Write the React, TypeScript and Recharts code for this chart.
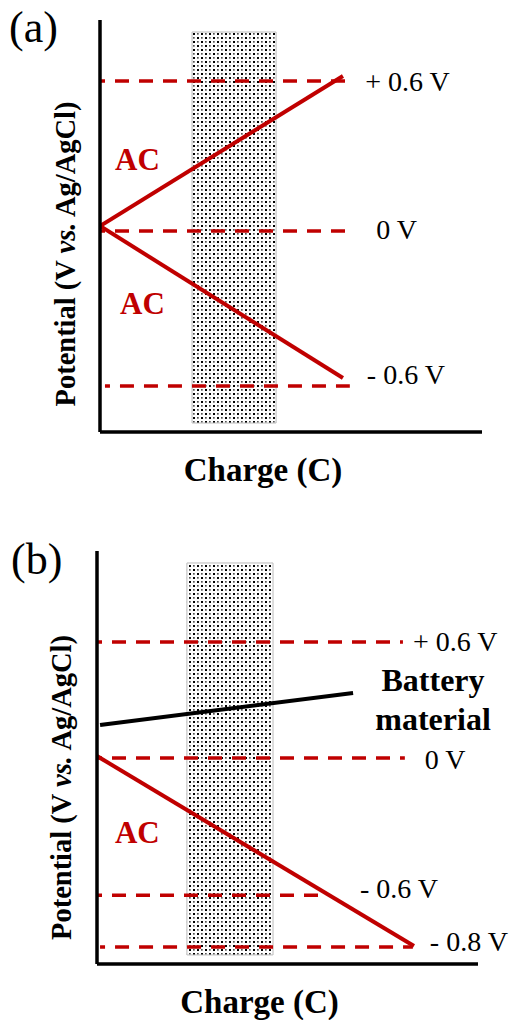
import {
  LineChart,
  Line,
  XAxis,
  YAxis,
  ReferenceLine,
  ReferenceArea,
  ReferenceDot,
} from "recharts";

const SERIF = '"Liberation Serif", "Times New Roman", serif';
const RED = "#c00000";

// ---- panel (a): symmetric AC / AC cell
const chargeA = [0, 63.6];
const acPositiveA = [0.02, 0.62];
const acNegativeA = [0.02, -0.588];
const levelsA = [0.6, 0, -0.62];
const levelLabelsA = ["+ 0.6 V", "0 V", "- 0.6 V"];
const levelStartA = [0, 0, 1.3];
const levelEndA = [64.7, 64.7, 65.4];
const windowChargeA = [24.1, 46.1];
const windowPotentialA = [-0.768, 0.796];
const acLabelsA = [
  { x: 9.8, y: 0.288 },
  { x: 11.1, y: -0.288 },
];

// ---- panel (b): battery material / AC cell
const chargeB = [0, 83.2];
const acNegativeB = [0.01, -0.973];
const batteryChargeB = [0.8, 67.2];
const batteryB = [0.171, 0.336];
const levelsB = [0.6, 0, -0.71, -0.978];
const levelLabelsB = ["+ 0.6 V", "0 V", "- 0.6 V", "- 0.8 V"];
const levelStartB = [0, 0, 0, 0.8];
const levelEndB = [80.3, 80.8, 58.5, 82.9];
const windowChargeB = [23.6, 46.2];
const windowPotentialB = [-1.019, 1.009];
const acLabelsB = [{ x: 10.6, y: -0.383 }];
const batteryLabelB = { x: 88.2, y: [0.404, 0.202], text: ["Battery", "material"] };

const toPoints = (xs: number[], ys: number[]) => xs.map((x, i) => ({ x, y: ys[i] }));

function YTitle({ viewBox, dx = 0, dy = 0 }: any) {
  const vb = viewBox || { x: 0, y: 0, width: 0, height: 0 };
  const cx = vb.x + vb.width + dx;
  const cy = vb.y + vb.height / 2 + dy;
  return (
    <text
      x={cx}
      y={cy}
      transform={`rotate(-90, ${cx}, ${cy})`}
      textAnchor="middle"
      dominantBaseline="central"
      fontFamily={SERIF}
      fontSize={28.5}
      fontWeight="bold"
      fill="#000"
    >
      {"Potential (V "}
      <tspan fontStyle="italic">vs.</tspan>
      {" Ag/AgCl)"}
    </text>
  );
}

function XTitle({ viewBox, dx = 0 }: any) {
  const vb = viewBox || { x: 0, y: 0, width: 0, height: 0 };
  return (
    <text
      x={vb.x + vb.width / 2 + dx}
      y={vb.y + 49}
      textAnchor="middle"
      fontFamily={SERIF}
      fontSize={33}
      fontWeight="bold"
      fill="#000"
    >
      Charge (C)
    </text>
  );
}

interface PanelProps {
  id: string;
  top: number;
  margin: { top: number; right: number; bottom: number; left: number };
  yDomain: [number, number];
  windowCharge: number[];
  windowPotential: number[];
  levels: number[];
  levelLabels: string[];
  levelStart: number[];
  levelEnd: number[];
  labelDx: number[];
  labelDy: number[];
  titleDx: number;
  titleDy: number;
  children?: React.ReactNode;
}

function Panel(p: PanelProps) {
  return (
    <div style={{ position: "absolute", left: 0, top: p.top }}>
      <LineChart width={514} height={500} margin={p.margin}>
        <defs>
          <pattern id={p.id} width="8" height="8" patternUnits="userSpaceOnUse">
            <rect width="8" height="8" fill="#fff" />
            <rect x="1" y="1" width="2" height="2" fill="#000" />
            <rect x="5" y="5" width="2" height="2" fill="#000" />
            <rect x="5" y="1" width="1.7" height="1.7" fill="#555" />
            <rect x="1" y="5" width="1.7" height="1.7" fill="#555" />
          </pattern>
        </defs>
        <XAxis
          type="number"
          dataKey="x"
          domain={[0, 100]}
          allowDataOverflow
          height={1}
          tick={false}
          tickLine={false}
          axisLine={{ stroke: "#000", strokeWidth: 3.5 }}
          label={<XTitle dx={-28} />}
        />
        <YAxis
          type="number"
          dataKey="y"
          domain={p.yDomain}
          allowDataOverflow
          width={1}
          tick={false}
          tickLine={false}
          axisLine={{ stroke: "#000", strokeWidth: 3.5 }}
          label={<YTitle dx={p.titleDx} dy={p.titleDy} />}
        />
        <ReferenceArea
          x1={p.windowCharge[0]}
          x2={p.windowCharge[1]}
          y1={p.windowPotential[0]}
          y2={p.windowPotential[1]}
          fill={`url(#${p.id})`}
          fillOpacity={1}
          stroke="#bbb"
          strokeWidth={1}
        />
        {p.levels.map((lvl, i) => (
          <ReferenceLine
            key={`lvl-${i}`}
            segment={[
              { x: p.levelStart[i], y: lvl },
              { x: p.levelEnd[i], y: lvl },
            ]}
            stroke={RED}
            strokeWidth={3.5}
            strokeDasharray="14 10"
            strokeDashoffset={9}
            label={{
              value: p.levelLabels[i],
              position: "right",
              offset: p.labelDx[i],
              dy: p.labelDy[i],
              fill: "#000",
              fontSize: 28,
              fontFamily: SERIF,
            }}
          />
        ))}
        {p.children}
      </LineChart>
    </div>
  );
}

const acLabel = (pt: { x: number; y: number }, i: number) => (
  <ReferenceDot
    key={`ac-${i}`}
    x={pt.x}
    y={pt.y}
    r={0}
    fill="none"
    stroke="none"
    label={{
      value: "AC",
      position: "center",
      fill: RED,
      fontSize: 31,
      fontWeight: "bold",
      fontFamily: SERIF,
    }}
  />
);

export default function App() {
  return (
    <div
      style={{
        position: "absolute",
        left: 0,
        top: 0,
        width: 514,
        height: 1021,
        background: "#fff",
        fontFamily: SERIF,
      }}
    >
      <div style={{ position: "absolute", left: 9, top: 6, fontSize: 44, lineHeight: "44px" }}>
        (a)
      </div>
      <div style={{ position: "absolute", left: 11, top: 538, fontSize: 44, lineHeight: "44px" }}>
        (b)
      </div>

      <Panel
        id="dotsA"
        top={0}
        margin={{ top: 20, right: 32, bottom: 67, left: 99 }}
        yDomain={[-0.804, 0.844]}
        windowCharge={windowChargeA}
        windowPotential={windowPotentialA}
        levels={levelsA}
        levelLabels={levelLabelsA}
        levelStart={levelStartA}
        levelEnd={levelEndA}
        labelDx={[18, 29, 17]}
        labelDy={[0, -2, -12]}
        titleDx={-35}
        titleDy={28}
      >
        <Line
          data={toPoints(chargeA, acPositiveA)}
          dataKey="y"
          type="linear"
          stroke={RED}
          strokeWidth={4}
          dot={false}
          activeDot={false}
          isAnimationActive={false}
        />
        <Line
          data={toPoints(chargeA, acNegativeA)}
          dataKey="y"
          type="linear"
          stroke={RED}
          strokeWidth={4}
          dot={false}
          activeDot={false}
          isAnimationActive={false}
        />
        {acLabelsA.map(acLabel)}
      </Panel>

      <Panel
        id="dotsB"
        top={520}
        margin={{ top: 31, right: 36, bottom: 55, left: 96 }}
        yDomain={[-1.066, 1.071]}
        windowCharge={windowChargeB}
        windowPotential={windowPotentialB}
        levels={levelsB}
        levelLabels={levelLabelsB}
        levelStart={levelStartB}
        levelEnd={levelEndB}
        labelDx={[10, 20, 40, 17]}
        labelDy={[-1, 1, -7, -6]}
        titleDx={-36}
        titleDy={30}
      >
        <Line
          data={toPoints(batteryChargeB, batteryB)}
          dataKey="y"
          type="linear"
          stroke="#000"
          strokeWidth={4}
          dot={false}
          activeDot={false}
          isAnimationActive={false}
        />
        <Line
          data={toPoints(chargeB, acNegativeB)}
          dataKey="y"
          type="linear"
          stroke={RED}
          strokeWidth={4}
          dot={false}
          activeDot={false}
          isAnimationActive={false}
        />
        {acLabelsB.map(acLabel)}
        {batteryLabelB.y.map((y, i) => (
          <ReferenceDot
            key={`bat-${i}`}
            x={batteryLabelB.x}
            y={y}
            r={0}
            fill="none"
            stroke="none"
            label={{
              value: batteryLabelB.text[i],
              position: "center",
              fill: "#000",
              fontSize: 32,
              fontWeight: "bold",
              fontFamily: SERIF,
            }}
          />
        ))}
      </Panel>
    </div>
  );
}
